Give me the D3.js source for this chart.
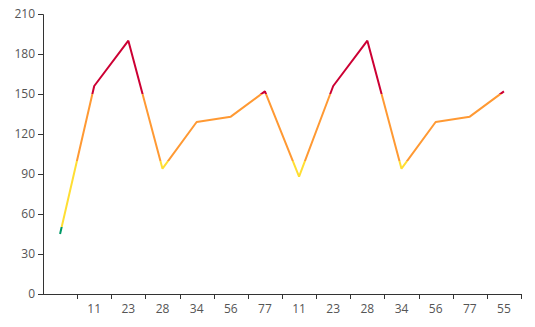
<!DOCTYPE html>
<html>
<head>
<meta charset="utf-8">
<script src="https://cdn.jsdelivr.net/npm/d3@7"></script>
<style>
html,body{margin:0;padding:0;background:#fff;}
svg{display:block;}
text{font-family:"Open Sans",sans-serif;font-size:12px;fill:#555;}
</style>
</head>
<body>
<svg id="chart" width="535" height="327"></svg>
<script>
const categories = ["", "11", "23", "28", "34", "56", "77", "11", "23", "28", "34", "56", "77", "55"];
const values = [45, 156, 190, 94, 129, 133, 152, 88, 156, 190, 94, 129, 133, 152];
const yTicks = [0, 30, 60, 90, 120, 150, 180, 210];
const pieces = [
  {min: 0, max: 50, color: "#009966"},
  {min: 50, max: 100, color: "#ffde33"},
  {min: 100, max: 150, color: "#ff9933"},
  {min: 150, max: 200, color: "#cc0033"},
  {min: 200, max: 300, color: "#660099"}
];

(function () {
const svg = d3.select("#chart");
const mL = 43, mR = 521, mT = 14, mB = 294;

const x = d3.scaleBand().domain(d3.range(categories.length)).range([mL, mR]);
const y = d3.scaleLinear().domain([0, 210]).range([mB, mT]);

const defs = svg.append("defs");
const grad = defs.append("linearGradient")
  .attr("id", "vm")
  .attr("gradientUnits", "userSpaceOnUse")
  .attr("x1", 0).attr("x2", 0)
  .attr("y1", y(0)).attr("y2", y(300));
pieces.forEach(p => {
  grad.append("stop").attr("offset", p.min / 300).attr("stop-color", p.color);
  grad.append("stop").attr("offset", p.max / 300).attr("stop-color", p.color);
});

const yAxis = d3.axisLeft(y).tickValues(yTicks).tickSize(5).tickPadding(3);
const gy = svg.append("g").attr("transform", `translate(${mL},0)`).call(yAxis);
gy.select(".domain").attr("stroke", "#333");
gy.selectAll(".tick line").attr("stroke", "#333");
gy.selectAll(".tick text").attr("fill", "#555").style("font-size", "12px").style("font-family", "'Open Sans',sans-serif");

const gx = svg.append("g").attr("transform", `translate(0,${mB})`);
gx.append("line").attr("x1", mL).attr("x2", mR).attr("y1", 0.5).attr("y2", 0.5).attr("stroke", "#333");
d3.range(1, categories.length + 1).forEach(i => {
  const tx = Math.round(mL + i * x.step()) + 0.5;
  gx.append("line").attr("x1", tx).attr("x2", tx).attr("y1", 0).attr("y2", 5).attr("stroke", "#333");
});
gx.selectAll("text.lbl").data(categories).enter().append("text")
  .attr("class", "lbl")
  .attr("x", (d, i) => x(i) + x.bandwidth() / 2)
  .attr("y", 19)
  .attr("text-anchor", "middle")
  .attr("fill", "#555")
  .text(d => d);

const line = d3.line()
  .x((d, i) => x(i) + x.bandwidth() / 2)
  .y(d => y(d));
svg.append("path")
  .datum(values)
  .attr("d", line)
  .attr("fill", "none")
  .attr("stroke", "url(#vm)")
  .attr("stroke-width", 2)
  .attr("stroke-linejoin", "bevel");
})();
</script>
</body>
</html>
